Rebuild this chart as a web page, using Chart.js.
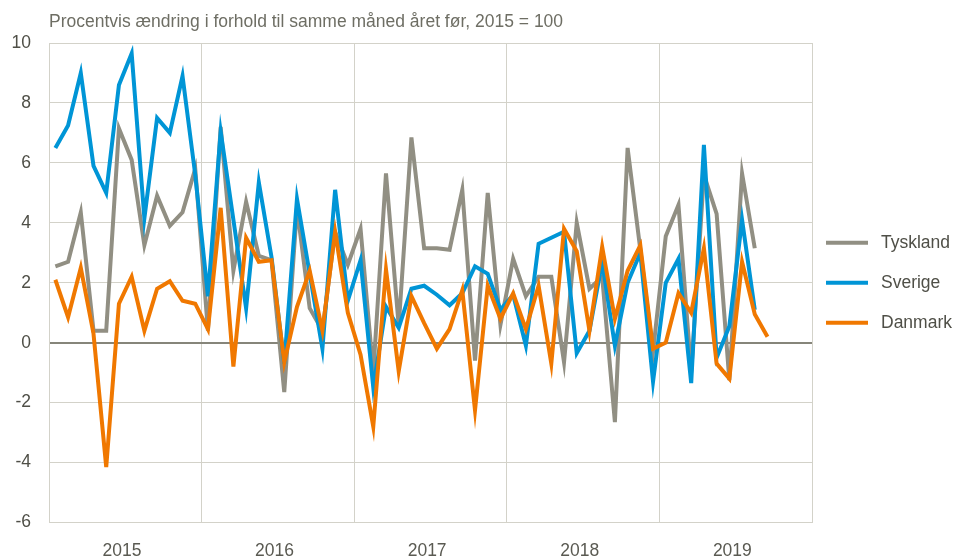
<!DOCTYPE html>
<html>
<head>
<meta charset="utf-8">
<script src="https://cdn.jsdelivr.net/npm/chart.js@4.4.1/dist/chart.umd.min.js"></script>
<style>
  html, body { margin: 0; padding: 0; background: #fff; }
</style>
</head>
<body>
<canvas id="price-chart" width="955" height="560"></canvas>
<script>
// Categories
var years = ['2015', '2016', '2017', '2018', '2019'];
var monthNames = ['jan', 'feb', 'mar', 'apr', 'maj', 'jun', 'jul', 'aug', 'sep', 'okt', 'nov', 'dec'];

// Series, procentvis ændring (monthly, from jan 2015)
var tyskland = [2.55, 2.7, 4.35, 0.4, 0.4, 7.15, 6.1, 3.25, 4.9, 3.9, 4.35, 5.8,
  0.4, 7.2, 2.4, 4.7, 2.9, 2.75, -1.65, 4.5, 1.15, 0.4, 3.7, 2.6,
  3.8, -1.0, 5.65, 0.55, 6.85, 3.15, 3.15, 3.1, 5.1, -0.6, 5.0, 0.6,
  2.8, 1.55, 2.2, 2.2, -0.65, 4.0, 1.8, 2.2, -2.65, 6.5, 3.1, -0.3,
  3.55, 4.6, -1.0, 5.6, 4.3, -1.25, 5.65, 3.15];
var sverige = [6.5, 7.25, 9.0, 5.9, 5.0, 8.6, 9.65, 4.15, 7.5, 7.0, 8.9, 5.6,
  1.55, 7.05, 4.1, 1.15, 5.35, 2.85, -0.7, 4.8, 2.3, -0.2, 5.1, 1.4,
  2.75, -1.5, 1.2, 0.5, 1.8, 1.9, 1.6, 1.25, 1.65, 2.55, 2.3, 1.1,
  1.6, -0.1, 3.3, 3.5, 3.7, -0.35, 0.4, 2.7, -0.1, 2.0, 3.0, -1.3,
  2.0, 2.8, -1.35, 6.6, -0.5, 0.55, 4.1, 1.1];
var danmark = [2.1, 0.85, 2.5, 0.3, -4.15, 1.3, 2.2, 0.4, 1.8, 2.05, 1.4, 1.3,
  0.45, 4.5, -0.8, 3.5, 2.7, 2.75, -0.65, 1.2, 2.4, 0.4, 3.7, 1.0,
  -0.4, -2.8, 2.45, -0.95, 1.55, 0.65, -0.2, 0.45, 1.75, -2.25, 1.9, 0.8,
  1.65, 0.45, 1.9, -0.7, 3.8, 3.05, 0.4, 3.2, 0.8, 2.4, 3.25, -0.2,
  0.0, 1.65, 1.0, 3.15, -0.7, -1.2, 2.7, 0.95, 0.2];

var months = [];
years.forEach(function (y) {
  monthNames.forEach(function (m) { months.push(m + ' ' + y); });
});

var fontFamily = '"Liberation Sans", Arial, sans-serif';
var fontSize = 17.5;
var gridColor = '#d3d2c9';

// Legend to the right of the plot, lines + names
var sideLegend = {
  id: 'sideLegend',
  afterDraw: function (chart) {
    var ctx = chart.ctx;
    var area = chart.chartArea;
    var mid = (area.top + area.bottom) / 2;
    ctx.save();
    ctx.font = fontSize + 'px ' + fontFamily;
    ctx.textBaseline = 'middle';
    chart.data.datasets.forEach(function (ds, i) {
      var y = mid + (i - 1) * 40;
      ctx.strokeStyle = ds.borderColor;
      ctx.lineWidth = 4;
      ctx.beginPath();
      ctx.moveTo(area.right + 14, y);
      ctx.lineTo(area.right + 56, y);
      ctx.stroke();
      ctx.fillStyle = '#4f4f47';
      ctx.fillText(ds.label, area.right + 69, y);
    });
    ctx.restore();
  }
};

var ctx = document.getElementById('price-chart').getContext('2d');
var myChart = new Chart(ctx, {
  type: 'line',
  data: {
    labels: months,
    datasets: [{
      label: 'Tyskland',
      data: tyskland,
      borderColor: '#918f83',
      order: 3
    }, {
      label: 'Sverige',
      data: sverige,
      borderColor: '#0095d6',
      order: 2
    }, {
      label: 'Danmark',
      data: danmark,
      borderColor: '#f07800',
      order: 1
    }]
  },
  options: {
    responsive: false,
    animation: false,
    devicePixelRatio: 1,
    layout: {
      padding: { left: 12, right: 143, top: 0, bottom: 0 }
    },
    elements: {
      line: { borderWidth: 4, tension: 0, fill: false },
      point: { radius: 0, hoverRadius: 0 }
    },
    scales: {
      x: {
        type: 'category',
        offset: true,
        afterFit: function (scale) { scale.height = 37.5; },
        grid: {
          offset: true,
          drawTicks: false,
          color: function (c) {
            return (c.index === undefined || c.index % 12 === 0) ? gridColor : 'rgba(0,0,0,0)';
          }
        },
        border: { color: gridColor },
        ticks: {
          autoSkip: false,
          maxRotation: 0,
          minRotation: 0,
          padding: 18,
          labelOffset: 3,
          color: '#5a5a52',
          font: { family: fontFamily, size: fontSize },
          callback: function (val, i) {
            return i % 12 === 5 ? years[Math.floor(i / 12)] : '';
          }
        }
      },
      y: {
        min: -6,
        max: 10,
        afterFit: function (scale) { scale.width = 37; },
        grid: {
          drawTicks: false,
          color: function (c) {
            return c.tick && c.tick.value === 0 ? '#86857a' : gridColor;
          },
          lineWidth: function (c) {
            return c.tick && c.tick.value === 0 ? 2 : 1;
          }
        },
        border: { color: gridColor },
        ticks: {
          stepSize: 2,
          padding: 18,
          color: '#4f4f47',
          font: { family: fontFamily, size: fontSize }
        }
      }
    },
    plugins: {
      legend: { display: false },
      tooltip: { enabled: false },
      title: {
        display: true,
        text: 'Procentvis ændring i forhold til samme måned året før, 2015 = 100',
        align: 'start',
        fullSize: false,
        color: '#6e6e64',
        font: { family: fontFamily, size: fontSize, weight: 'normal' },
        padding: { top: 12, bottom: 10 }
      }
    }
  },
  plugins: [sideLegend]
});
</script>
</body>
</html>
